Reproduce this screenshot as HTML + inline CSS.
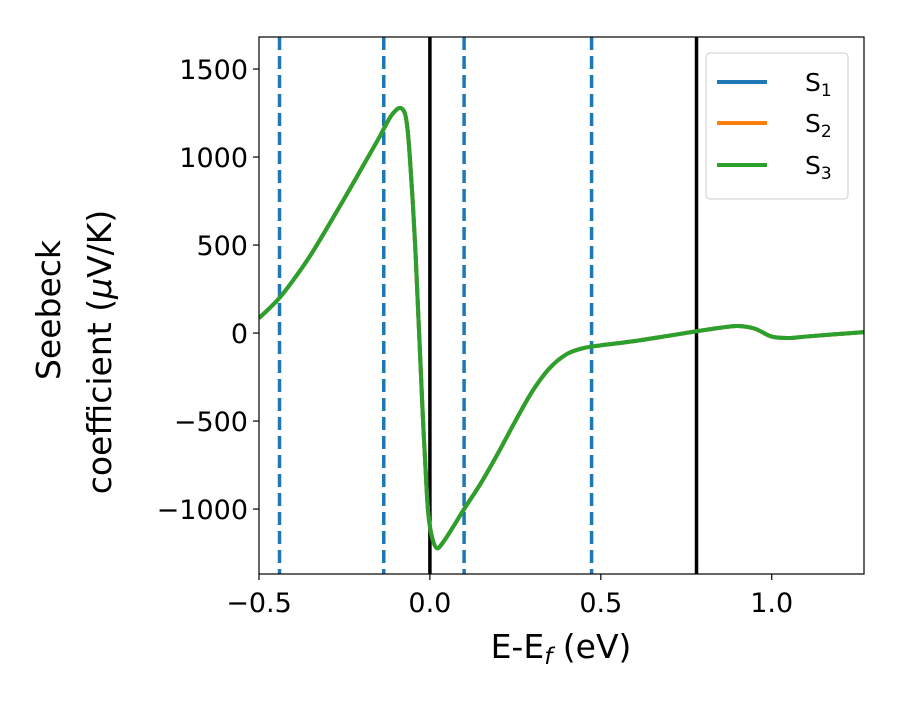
<!DOCTYPE html>
<html><head><meta charset="utf-8"><style>
body{margin:0;background:#fff}
svg text{font-family:"DejaVu Sans","Liberation Sans",sans-serif}
</style></head><body>
<svg id="c" width="900" height="700" xmlns="http://www.w3.org/2000/svg"></svg>
<script>
const xs=[-0.5,-0.47,-0.44,-0.4,-0.35,-0.3,-0.25,-0.2,-0.15,-0.135,-0.115,-0.1,-0.09,-0.08,-0.072,-0.065,-0.058,-0.05,-0.042,-0.035,-0.027,-0.02,-0.012,-0.005,0.005,0.02,0.04,0.07,0.1,0.15,0.2,0.25,0.3,0.35,0.4,0.45,0.5,0.6,0.7,0.78,0.85,0.9,0.95,1.0,1.05,1.1,1.2,1.27];
const s1=[85,140,200,300,440,600,765,935,1105,1160,1230,1265,1278,1272,1240,1150,980,740,450,150,-200,-500,-800,-1020,-1150,-1222,-1185,-1095,-1000,-850,-680,-500,-330,-200,-120,-85,-70,-45,-15,10,30,40,25,-20,-28,-20,-5,5];
const s2=s1.slice();
const s3=s1.slice();
const dashedLines=[-0.44,-0.135,0.10,0.473];
const solidLines=[0,0.78];
const xTicks=[-0.5,0,0.5,1.0];
const xTickLabels=["\u22120.5","0.0","0.5","1.0"];
const yTicks=[-1000,-500,0,500,1000,1500];
const yTickLabels=["\u22121000","\u2212500","0","500","1000","1500"];
const L=259,R=864,T=37,B=574,xmin=-0.5,xmax=1.27,ymin=-1369,ymax=1682;
const X=v=>L+(v-xmin)/(xmax-xmin)*(R-L);
const Y=v=>B-(v-ymin)/(ymax-ymin)*(B-T);
const svg=document.getElementById('c');
function el(t,a,p){const e=document.createElementNS('http://www.w3.org/2000/svg',t);for(const k in a)e.setAttribute(k,a[k]);(p||svg).appendChild(e);return e;}
function smooth(s){const P=xs.map((x,i)=>[X(x),Y(s[i])]);let d='M'+P[0][0]+','+P[0][1];
for(let i=0;i<P.length-1;i++){const p0=P[Math.max(0,i-1)],p1=P[i],p2=P[i+1],p3=P[Math.min(P.length-1,i+2)];
d+=' C'+(p1[0]+(p2[0]-p0[0])/6)+','+(p1[1]+(p2[1]-p0[1])/6)+' '+(p2[0]-(p3[0]-p1[0])/6)+','+(p2[1]-(p3[1]-p1[1])/6)+' '+p2[0]+','+p2[1];}return d;}
const defs=el('defs',{});const cp=el('clipPath',{id:'clip'},defs);el('rect',{x:L,y:T,width:R-L,height:B-T},cp);
const g=el('g',{'clip-path':'url(#clip)'});
dashedLines.forEach(v=>{const l=el('line',{x1:X(v),x2:X(v),y1:T,y2:B,stroke:'#1f77b4','stroke-width':3.5,'stroke-dasharray':'13,6'},g);

});
solidLines.forEach(v=>{const l=el('line',{x1:X(v),x2:X(v),y1:T,y2:B,stroke:'#000','stroke-width':3.5},g);

});
[[s1,'#1f77b4','series-s1'],[s2,'#ff7f0e','series-s2'],[s3,'#2ca02c','series-s3']].forEach(([s,c,n])=>{
const p=el('path',{d:smooth(s),fill:'none',stroke:c,'stroke-width':4,'stroke-linejoin':'round'},g);

});
const fr=el('rect',{x:L,y:T,width:R-L,height:B-T,fill:'none',stroke:'#000','stroke-width':1.2});


xTicks.forEach((v,i)=>{el('line',{x1:X(v),x2:X(v),y1:B,y2:B+6,stroke:'#000','stroke-width':1.2});
const t=el('text',{x:X(v),y:B+38,'font-size':27,'text-anchor':'middle'});t.textContent=xTickLabels[i];

});
yTicks.forEach((v,i)=>{el('line',{x1:L-6,x2:L,y1:Y(v),y2:Y(v),stroke:'#000','stroke-width':1.2});
const t=el('text',{x:L-11,y:Y(v)+10,'font-size':27,'text-anchor':'end'});t.textContent=yTickLabels[i];

});
</script>
<svg width="900" height="700" style="position:absolute;left:0;top:0" xmlns="http://www.w3.org/2000/svg">
<text x="561" y="658" font-size="33" text-anchor="middle" font-family="DejaVu Sans, sans-serif">E-E<tspan font-style="italic" font-size="23" dy="6">f</tspan><tspan dy="-6"> (eV)</tspan></text>
<text transform="translate(60,310) rotate(-90)" font-size="33" text-anchor="middle" font-family="DejaVu Sans, sans-serif">Seebeck</text>
<text transform="translate(111,352) rotate(-90)" font-size="33" text-anchor="middle" font-family="DejaVu Sans, sans-serif">coefficient  (<tspan font-style="italic">μ</tspan>V/K)</text>
<g font-family="DejaVu Sans, sans-serif">
<rect x="706" y="53" width="142" height="146" rx="4" fill="#fff" stroke="#ccc"/>
<line x1="717" x2="767" y1="82" y2="82" stroke="#1f77b4" stroke-width="4"/>
<text x="805" y="91" font-size="25">S<tspan font-size="17" dy="5">1</tspan></text>
<line x1="717" x2="767" y1="123" y2="123" stroke="#ff7f0e" stroke-width="4"/>
<text x="805" y="132" font-size="25">S<tspan font-size="17" dy="5">2</tspan></text>
<line x1="717" x2="767" y1="165" y2="165" stroke="#2ca02c" stroke-width="4"/>
<text x="805" y="174" font-size="25">S<tspan font-size="17" dy="5">3</tspan></text>
</g>
</svg>
</body></html>
